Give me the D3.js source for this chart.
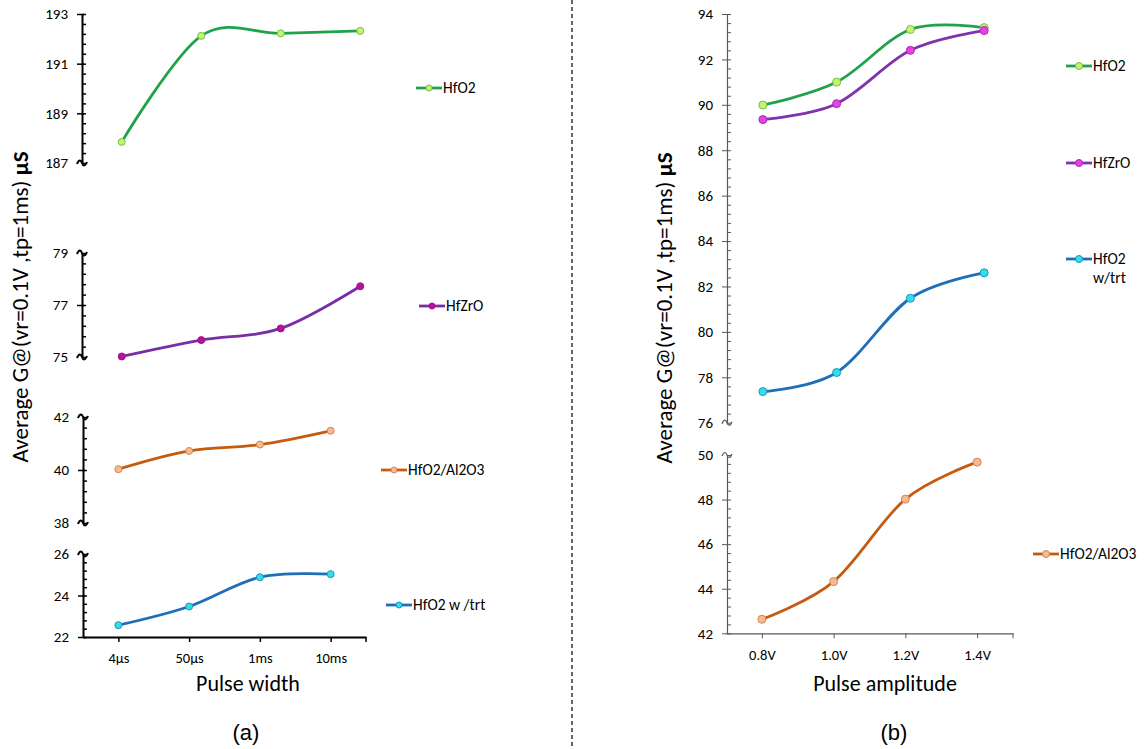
<!DOCTYPE html>
<html>
<head>
<meta charset="utf-8">
<script src="https://cdn.jsdelivr.net/npm/d3@7"></script>
<style>
  body { margin: 0; background: #fff; }
  text { font-family: Carlito, Calibri, Lato, sans-serif; fill: #000; }
</style>
</head>
<body>
<div id="chart"></div>
<script>
// Categories
let pulseWidths = ['4µs', '50µs', '1ms', '10ms'];
let pulseAmps = ['0.8V', '1.0V', '1.2V', '1.4V'];

// (a) pulse width series, µS
let widthHfO2 = [187.85, 192.12, 192.22, 192.32];
let widthHfZrO = [75.02, 75.65, 76.1, 77.72];
let widthAl2O3 = [40.03, 40.72, 40.96, 41.48];
let widthTrt = [22.57, 23.47, 24.88, 25.03];

// (b) pulse amplitude series, µS
let ampHfO2 = [89.99, 91.0, 93.32, 93.4];
let ampHfZrO = [89.35, 90.05, 92.4, 93.27];
let ampTrt = [77.37, 78.21, 81.48, 82.6];
let ampAl2O3 = [42.63, 44.32, 48.02, 49.68];

// Colours
let green = { line: '#1fa24c', fill: '#c9f26d', stroke: '#6cc04a' };
let purpleA = { line: '#7a2ea6', fill: '#b8119c', stroke: '#a0108a' };
let purpleB = { line: '#7f34ae', fill: '#e83fe6', stroke: '#a32cb0' };
let orange = { line: '#c55a11', fill: '#f6bb92', stroke: '#d9834a' };
let blue = { line: '#1f6fb8', fill: '#2fe0e6', stroke: '#2390c4' };

let svg = d3.select('#chart')
  .append('svg')
  .attr('width', 1148)
  .attr('height', 749);

// Little tilde used for axis breaks
function tilde(x, y) {
  return `M${x - 5},${y + 1} C${x - 3},${y - 4} ${x - 1},${y - 3} ${x},${y} S${x + 3},${y + 4} ${x + 5},${y - 1}`;
}

// Y axis with major labels, minor ticks and optional break marks
function drawYAxis(x, yScale, majors, opt) {
  let minors = d3.range(yScale.domain()[0], yScale.domain()[1] + 1e-9, opt.minorStep);

  let minorAxis = svg.append('g')
    .attr('transform', `translate(${x},0)`)
    .call(d3.axisRight(yScale).tickValues(minors).tickSize(opt.minorLen).tickFormat(''));
  minorAxis.select('.domain').remove();
  minorAxis.selectAll('line').attr('stroke', opt.color).attr('stroke-width', opt.tickWidth);

  let axis = svg.append('g')
    .attr('transform', `translate(${x},0)`)
    .call(d3.axisLeft(yScale)
      .tickValues(majors)
      .tickFormat(d3.format('d'))
      .tickSizeInner(5)
      .tickSizeOuter(0)
      .tickPadding(9));
  axis.select('.domain').attr('stroke', opt.color).attr('stroke-width', opt.width);
  axis.selectAll('.tick line')
    .attr('stroke', opt.color)
    .attr('stroke-width', opt.tickWidth)
    .attr('x1', opt.majorRight)
    .attr('display', d => opt.breaks.includes(d) ? 'none' : null);
  axis.selectAll('.tick text')
    .style('font-size', opt.fontSize + 'px')
    .attr('fill', '#000');

  svg.selectAll(null)
    .data(opt.breaks)
    .enter()
    .append('path')
    .attr('d', d => tilde(x, yScale(d)))
    .attr('fill', 'none')
    .attr('stroke', opt.color)
    .attr('stroke-width', opt.width);
}

// X axis with ticks at category centres and at the right end
function drawXAxis(y, xScale, opt) {
  let axis = svg.append('g')
    .attr('transform', `translate(0,${y})`)
    .call(d3.axisBottom(xScale).tickSizeInner(5).tickSizeOuter(0).tickPadding(11));
  axis.select('.domain').attr('stroke', opt.color).attr('stroke-width', opt.width);
  axis.selectAll('.tick line').attr('stroke', opt.color).attr('stroke-width', opt.tickWidth);
  axis.selectAll('.tick text').style('font-size', '14.5px').attr('fill', '#000');
  axis.append('line')
    .attr('x1', xScale.range()[1]).attr('x2', xScale.range()[1])
    .attr('y1', 0).attr('y2', 5)
    .attr('stroke', opt.color)
    .attr('stroke-width', opt.tickWidth);
}

// Smoothed line with round markers
function drawSeries(xScale, yScale, cats, values, col, r) {
  let line = d3.line()
    .x((d, i) => xScale(cats[i]))
    .y(d => yScale(d))
    .curve(d3.curveCardinal);

  svg.append('path')
    .datum(values)
    .attr('d', line)
    .attr('fill', 'none')
    .attr('stroke', col.line)
    .attr('stroke-width', 2.8);

  svg.selectAll(null)
    .data(values)
    .enter()
    .append('circle')
    .attr('cx', (d, i) => xScale(cats[i]))
    .attr('cy', d => yScale(d))
    .attr('r', r)
    .attr('fill', col.fill)
    .attr('stroke', col.stroke)
    .attr('stroke-width', 1);
}

// Legend entry: short line with marker, then label lines
function drawLegend(x, y, col, labels, r) {
  svg.append('line')
    .attr('x1', x).attr('x2', x + 26)
    .attr('y1', y).attr('y2', y)
    .attr('stroke', col.line)
    .attr('stroke-width', 2.8);
  svg.append('circle')
    .attr('cx', x + 13).attr('cy', y)
    .attr('r', r)
    .attr('fill', col.fill)
    .attr('stroke', col.stroke);
  let t = svg.append('text')
    .attr('x', x + 27)
    .attr('y', y)
    .style('font-size', '15.5px');
  labels.forEach((s, i) => {
    t.append('tspan').attr('x', x + 27).attr('dy', i === 0 ? '0.35em' : '1.2em').text(s);
  });
}

function yTitle(x, y) {
  let t = svg.append('text')
    .attr('transform', `translate(${x},${y}) rotate(-90)`)
    .attr('text-anchor', 'middle')
    .style('font-size', '23px');
  t.append('tspan').text('Average G@(vr=0.1V ,tp=1ms) ');
  t.append('tspan').style('font-weight', 'bold').text('µS');
}

// ---------- (a) Pulse width ----------
let leftAxis = { color: '#000', width: 2, tickWidth: 1.5, minorLen: 4, minorStep: 0.4, majorRight: 2, fontSize: 15 };

let xTop = d3.scalePoint().domain(pulseWidths).range([82, 400]).padding(0.5);
let xBot = d3.scalePoint().domain(pulseWidths).range([83, 366]).padding(0.5);

let yA1 = d3.scaleLinear().domain([187, 193]).range([163, 14]);
let yA2 = d3.scaleLinear().domain([75, 79]).range([357, 253]);
let yA3 = d3.scaleLinear().domain([38, 42]).range([523, 417]);
let yA4 = d3.scaleLinear().domain([22, 26]).range([637, 554]);

drawYAxis(82, yA1, [187, 189, 191, 193], Object.assign({ breaks: [187] }, leftAxis));
drawYAxis(82, yA2, [75, 77, 79], Object.assign({ breaks: [75, 79] }, leftAxis));
drawYAxis(83, yA3, [38, 40, 42], Object.assign({ breaks: [38, 42] }, leftAxis));
drawYAxis(83, yA4, [22, 24, 26], Object.assign({ breaks: [26] }, leftAxis));
drawXAxis(637, xBot, { color: '#000', width: 2, tickWidth: 1.5 });

drawSeries(xTop, yA1, pulseWidths, widthHfO2, green, 3.5);
drawSeries(xTop, yA2, pulseWidths, widthHfZrO, purpleA, 3.5);
drawSeries(xBot, yA3, pulseWidths, widthAl2O3, orange, 3.5);
drawSeries(xBot, yA4, pulseWidths, widthTrt, blue, 3.5);

drawLegend(416, 88, green, ['HfO2'], 3);
drawLegend(419, 306, purpleA, ['HfZrO'], 3);
drawLegend(381, 470, orange, ['HfO2/Al2O3'], 3);
drawLegend(386, 605, blue, ['HfO2 w /trt'], 3);

yTitle(28, 307);

svg.append('text')
  .attr('x', 248).attr('y', 691)
  .attr('text-anchor', 'middle')
  .style('font-size', '22px')
  .text('Pulse width');

svg.append('text')
  .attr('x', 246).attr('y', 740)
  .attr('text-anchor', 'middle')
  .style('font-family', 'Liberation Sans, Arial, sans-serif')
  .style('font-size', '22px')
  .text('(a)');

// divider
svg.append('line')
  .attr('x1', 572).attr('x2', 572)
  .attr('y1', 0).attr('y2', 749)
  .attr('stroke', '#000')
  .attr('stroke-width', 1.2)
  .attr('stroke-dasharray', '4,3');

// ---------- (b) Pulse amplitude ----------
let rightAxis = { color: '#595959', width: 1.2, tickWidth: 1, minorLen: 4, minorStep: 0.4, majorRight: 0, fontSize: 15 };

let xB1 = d3.scalePoint().domain(pulseAmps).range([726, 1021]).padding(0.5);
let xB2 = d3.scalePoint().domain(pulseAmps).range([726, 1013]).padding(0.5);

let yB1 = d3.scaleLinear().domain([76, 94]).range([422.7, 14]);
let yB2 = d3.scaleLinear().domain([42, 50]).range([633.3, 455]);

drawYAxis(727, yB1, d3.range(76, 95, 2), Object.assign({ breaks: [76] }, rightAxis));
drawYAxis(727, yB2, d3.range(42, 51, 2), Object.assign({ breaks: [50] }, rightAxis));
drawXAxis(633.3, xB2, { color: '#595959', width: 1.2, tickWidth: 1 });

drawSeries(xB1, yB1, pulseAmps, ampHfO2, green, 4);
drawSeries(xB1, yB1, pulseAmps, ampHfZrO, purpleB, 4);
drawSeries(xB1, yB1, pulseAmps, ampTrt, blue, 4);
drawSeries(xB2, yB2, pulseAmps, ampAl2O3, orange, 4);

drawLegend(1066, 66, green, ['HfO2'], 3.5);
drawLegend(1066, 163, purpleB, ['HfZrO'], 3.5);
drawLegend(1066, 259, blue, ['HfO2', 'w/trt'], 3.5);
drawLegend(1033, 554, orange, ['HfO2/Al2O3'], 3.5);

yTitle(672, 308);

svg.append('text')
  .attr('x', 885).attr('y', 691)
  .attr('text-anchor', 'middle')
  .style('font-size', '22px')
  .text('Pulse amplitude');

svg.append('text')
  .attr('x', 894).attr('y', 740)
  .attr('text-anchor', 'middle')
  .style('font-family', 'Liberation Sans, Arial, sans-serif')
  .style('font-size', '22px')
  .text('(b)');
</script>
</body>
</html>
